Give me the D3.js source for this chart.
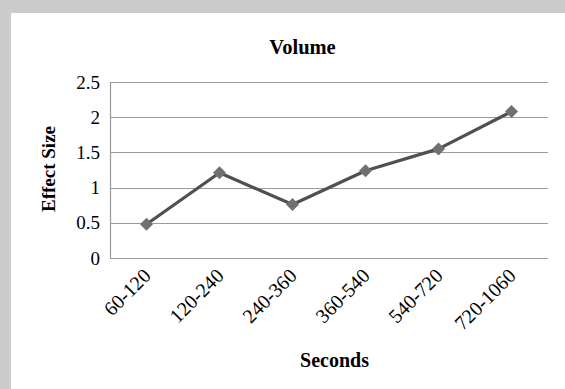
<!DOCTYPE html>
<html>
<head>
<meta charset="utf-8">
<script src="https://cdn.jsdelivr.net/npm/d3@7"></script>
<style>
  html, body { margin: 0; padding: 0; background: #cccccc; }
  svg { display: block; }
  text { font-family: "Liberation Serif", "Times New Roman", serif; fill: #000; }
</style>
</head>
<body>
<svg id="chart" width="565" height="389"></svg>
<script>
// Effect size of volume by time window
const categories = ["60-120", "120-240", "240-360", "360-540", "540-720", "720-1060"];
const effectSize = [0.48, 1.21, 0.76, 1.24, 1.55, 2.08];
const yTicks = [0, 0.5, 1, 1.5, 2, 2.5];
const yTickLabels = ["0", "0.5", "1", "1.5", "2", "2.5"];

const svg = d3.select("#chart");
const W = 565, H = 389;

// white chart panel
svg.append("rect").attr("x", 11).attr("y", 13).attr("width", W - 11).attr("height", H - 13).attr("fill", "#ffffff");

const plot = { left: 110, right: 548, top: 82, bottom: 258 };

const x = d3.scaleBand().domain(categories).range([plot.left, plot.right]).padding(0);
const y = d3.scaleLinear().domain([0, 2.5]).range([plot.bottom, plot.top]);

// horizontal gridlines
svg.append("g").selectAll("line").data(yTicks).join("line")
  .attr("x1", plot.left).attr("x2", plot.right)
  .attr("y1", d => Math.round(y(d)) + 0.5).attr("y2", d => Math.round(y(d)) + 0.5)
  .attr("stroke", "#9a9a9a").attr("stroke-width", 1.2);

// y axis line
svg.append("line")
  .attr("x1", plot.left + 0.5).attr("x2", plot.left + 0.5)
  .attr("y1", plot.top).attr("y2", plot.bottom + 0.5)
  .attr("stroke", "#9a9a9a").attr("stroke-width", 1.2);

// y tick labels
svg.append("g").selectAll("text").data(yTicks).join("text")
  .attr("x", plot.left - 10).attr("y", d => y(d)).attr("dy", "0.35em")
  .attr("text-anchor", "end").style("font-size", "19px")
  .text((d, i) => yTickLabels[i]);

// x tick labels, rotated
const cx = d => x(d) + x.bandwidth() / 2;
svg.append("g").selectAll("text").data(categories).join("text")
  .attr("transform", d => `translate(${cx(d) + 5.5},${plot.bottom + 19}) rotate(-45)`)
  .attr("text-anchor", "end").style("font-size", "20px")
  .text(d => d);

// series line
const line = d3.line().x((d, i) => cx(categories[i])).y(d => y(d));
svg.append("path").datum(effectSize)
  .attr("d", line).attr("fill", "none")
  .attr("stroke", "#505050").attr("stroke-width", 3.2).attr("stroke-linejoin", "round");

// diamond markers
svg.append("g").selectAll("path").data(effectSize).join("path")
  .attr("transform", (d, i) => `translate(${cx(categories[i])},${y(d)})`)
  .attr("d", "M0,-6.5L6.5,0L0,6.5L-6.5,0Z")
  .attr("fill", "#707070");

// titles
svg.append("text").attr("x", 302.5).attr("y", 54).attr("text-anchor", "middle")
  .style("font-size", "20.5px").style("font-weight", "bold").text("Volume");
svg.append("text").attr("transform", `translate(55,${(plot.top + plot.bottom) / 2 - 1}) rotate(-90)`)
  .attr("text-anchor", "middle").style("font-size", "19px").style("font-weight", "bold").text("Effect Size");
svg.append("text").attr("x", 334.5).attr("y", 367).attr("text-anchor", "middle")
  .style("font-size", "20px").style("font-weight", "bold").text("Seconds");
</script>
</body>
</html>
